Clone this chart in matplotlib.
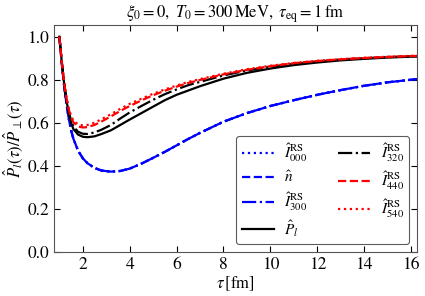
import numpy as np
import matplotlib
matplotlib.use("Agg")
import matplotlib.pyplot as plt

# proper time grid (fm)
tau = [1.0, 1.1, 1.2, 1.3, 1.4, 1.5, 1.6, 1.8, 2.0, 2.2, 2.5, 2.8, 3.2, 3.6,
       4.0, 4.5, 5.0, 5.5, 6.0, 6.5, 7.0, 8.0, 9.0, 10.0, 11.0, 12.0, 13.0,
       14.0, 15.0, 16.0, 16.3]

# blue curves (moments that collapse onto each other)
I000 = [1.0, 0.88, 0.775, 0.69, 0.62, 0.565, 0.525, 0.47, 0.435, 0.412, 0.39,
        0.378, 0.373, 0.376, 0.387, 0.41, 0.437, 0.465, 0.495, 0.525, 0.553,
        0.605, 0.645, 0.678, 0.705, 0.73, 0.752, 0.772, 0.788, 0.80, 0.804]
n_hat = [1.0, 0.88, 0.775, 0.69, 0.62, 0.565, 0.525, 0.47, 0.435, 0.412, 0.39,
         0.378, 0.373, 0.376, 0.387, 0.41, 0.437, 0.465, 0.495, 0.525, 0.553,
         0.605, 0.645, 0.678, 0.705, 0.73, 0.752, 0.772, 0.788, 0.80, 0.804]
I300 = [1.0, 0.88, 0.775, 0.69, 0.62, 0.565, 0.525, 0.47, 0.435, 0.412, 0.39,
        0.378, 0.373, 0.376, 0.387, 0.41, 0.437, 0.465, 0.495, 0.525, 0.553,
        0.605, 0.645, 0.678, 0.705, 0.73, 0.752, 0.772, 0.788, 0.80, 0.804]

P_l = [1.0, 0.885, 0.785, 0.705, 0.645, 0.60, 0.57, 0.545, 0.535, 0.533, 0.537,
       0.548, 0.565, 0.59, 0.615, 0.645, 0.675, 0.705, 0.73, 0.75, 0.77,
       0.805, 0.832, 0.852, 0.868, 0.88, 0.89, 0.897, 0.903, 0.907, 0.908]
I320 = [1.0, 0.885, 0.787, 0.71, 0.652, 0.61, 0.582, 0.558, 0.549, 0.548, 0.555,
        0.568, 0.59, 0.62, 0.648, 0.678, 0.707, 0.733, 0.755, 0.775, 0.79,
        0.82, 0.843, 0.86, 0.874, 0.885, 0.894, 0.90, 0.905, 0.909, 0.91]
I440 = [1.0, 0.885, 0.788, 0.716, 0.662, 0.625, 0.602, 0.583, 0.578, 0.58, 0.59,
        0.606, 0.63, 0.655, 0.678, 0.704, 0.728, 0.749, 0.768, 0.785, 0.799,
        0.825, 0.846, 0.863, 0.877, 0.887, 0.895, 0.901, 0.906, 0.91, 0.911]
I540 = [1.0, 0.885, 0.79, 0.72, 0.667, 0.632, 0.61, 0.592, 0.588, 0.59, 0.60,
        0.617, 0.64, 0.665, 0.688, 0.712, 0.735, 0.755, 0.773, 0.79, 0.803,
        0.828, 0.849, 0.865, 0.878, 0.888, 0.896, 0.902, 0.907, 0.911, 0.912]

plt.rcParams["font.family"] = "STIXGeneral"
plt.rcParams["mathtext.fontset"] = "stix"
plt.rcParams["font.size"] = 10

fig = plt.figure(figsize=(4.25, 2.96), dpi=100)
ax = fig.add_axes([0.127, 0.149, 0.854, 0.767])

lw = 1.6
ax.plot(tau, I000, color="blue", ls=":", lw=lw, label=r"$\hat{I}^{\rm RS}_{000}$")
ax.plot(tau, n_hat, color="blue", ls="--", lw=lw, label=r"$\hat{n}$")
ax.plot(tau, I300, color="blue", ls="-.", lw=lw, label=r"$\hat{I}^{\rm RS}_{300}$")
ax.plot(tau, P_l, color="black", ls="-", lw=lw, label=r"$\hat{P}_l$")
ax.plot(tau, I320, color="black", ls="-.", lw=lw, label=r"$\hat{I}^{\rm RS}_{320}$")
ax.plot(tau, I440, color="red", ls="--", lw=lw, label=r"$\hat{I}^{\rm RS}_{440}$")
ax.plot(tau, I540, color="red", ls=":", lw=lw, label=r"$\hat{I}^{\rm RS}_{540}$")

ax.set_xlim(0.77, 16.25)
ax.set_ylim(0.0, 1.055)
ax.set_xticks([2, 4, 6, 8, 10, 12, 14, 16])
ax.set_yticks([0.0, 0.2, 0.4, 0.6, 0.8, 1.0])
ax.tick_params(direction="in", top=True, right=True, labelsize=12.5, length=4)
for s in ax.spines.values():
    s.set_color("#555555")

ax.set_xlabel(r"$\tau\,[\mathrm{fm}]$", fontsize=12, labelpad=1)
ax.set_ylabel(r"$\hat{P}_l(\tau)/\hat{P}_\perp(\tau)$", fontsize=12, labelpad=2)
ax.set_title(r"$\xi_0 = 0,\ T_0 = 300\,\mathrm{MeV},\ \tau_{\rm eq} = 1\,\mathrm{fm}$",
             fontsize=12, pad=5)

leg = ax.legend(loc="lower right", ncol=2, fontsize=11, frameon=True,
                fancybox=True, edgecolor="#333333", handlelength=2.1,
                handletextpad=0.7, columnspacing=2.0, labelspacing=0.35,
                borderpad=0.35, borderaxespad=0.5)
leg.get_frame().set_linewidth(0.8)

fig.savefig("out.png", dpi=100)
